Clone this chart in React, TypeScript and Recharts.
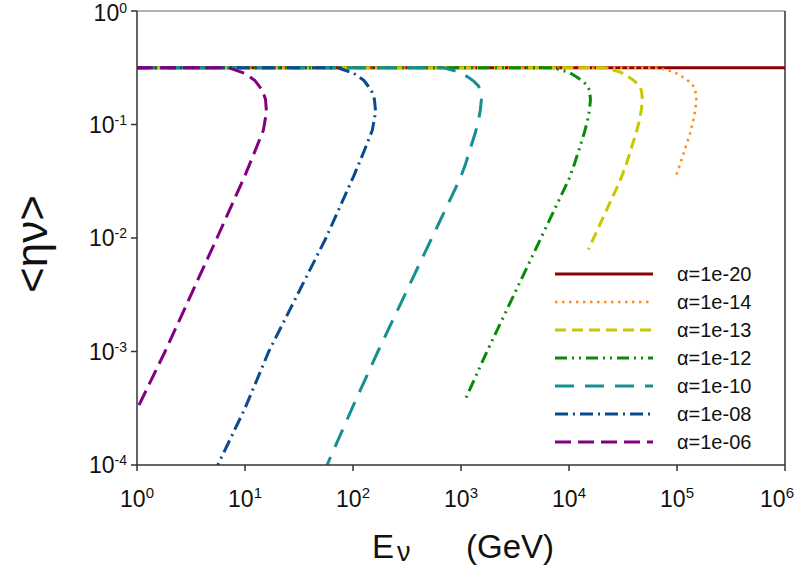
import { FC } from "react";
import { LineChart, Line, XAxis, YAxis, ReferenceLine, Legend, Label } from "recharts";

// energies (GeV) and <eta_nu>, one pair of arrays per alpha
const a20E = [1, 1e6];
const a20Eta = [0.316, 0.316];

const a14E = [1, 67600, 95500, 112000, 129000, 141000, 148000, 151000, 148000, 141000, 132000, 120000, 107000, 95500];
const a14Eta = [0.316, 0.316, 0.288, 0.263, 0.24, 0.219, 0.2, 0.166, 0.135, 0.107, 0.0832, 0.0631, 0.0447, 0.0331];

const a13E = [1, 21400, 30200, 35500, 40700, 44700, 46800, 47900, 46800, 44700, 41700, 38000, 33900, 30200, 15100];
const a13Eta = [0.316, 0.316, 0.288, 0.263, 0.24, 0.219, 0.2, 0.166, 0.135, 0.107, 0.0832, 0.0631, 0.0447, 0.0331, 0.0079];

const a12E = [1, 7080, 10000, 11700, 13500, 14800, 15500, 15800, 15500, 14800, 13800, 12600, 11200, 10000, 5500, 1740, 1070];
const a12Eta = [0.316, 0.316, 0.288, 0.263, 0.24, 0.219, 0.2, 0.166, 0.135, 0.107, 0.0832, 0.0631, 0.0447, 0.0331, 0.01, 0.001, 0.00036];

const a10E = [1, 692, 977, 1150, 1320, 1450, 1510, 1550, 1510, 1450, 1350, 1230, 1100, 977, 537, 170, 98, 57.5];
const a10Eta = [0.316, 0.316, 0.288, 0.263, 0.24, 0.219, 0.2, 0.17, 0.135, 0.107, 0.0832, 0.0631, 0.0447, 0.0331, 0.01, 0.001, 0.000316, 0.0001];

const a08E = [1, 72.4, 102, 126, 148, 158, 162, 151, 126, 102, 56.2, 16.6, 10, 5.6];
const a08Eta = [0.316, 0.316, 0.282, 0.245, 0.2, 0.166, 0.129, 0.0891, 0.0575, 0.0355, 0.01, 0.001, 0.000316, 0.0001];

const a06E = [1, 7.08, 10, 12.3, 14.5, 15.5, 15.8, 14.8, 12.3, 10, 5.5, 1.82, 1];
const a06Eta = [0.316, 0.316, 0.282, 0.245, 0.2, 0.166, 0.129, 0.0891, 0.0575, 0.0355, 0.01, 0.001, 0.00031];

const xTicks = [1, 10, 100, 1e3, 1e4, 1e5, 1e6];
const yTicks = [1e-4, 1e-3, 1e-2, 1e-1, 1];

const zip = (es: number[], etas: number[]) => es.map((e, i) => ({ e, eta: etas[i] }));

const series = [
  { name: "α=1e-20", color: "#8b0000", dash: undefined, width: 3, data: zip(a20E, a20Eta) },
  { name: "α=1e-14", color: "#ff8c1a", dash: "2.5 4.5", width: 2.5, data: zip(a14E, a14Eta) },
  { name: "α=1e-13", color: "#c8c800", dash: "11 6", width: 3, data: zip(a13E, a13Eta) },
  { name: "α=1e-12", color: "#0a8a0a", dash: "12 5 2 5 2 5", width: 3, data: zip(a12E, a12Eta) },
  { name: "α=1e-10", color: "#168f8f", dash: "19 11", width: 3, data: zip(a10E, a10Eta) },
  { name: "α=1e-08", color: "#0b4a8e", dash: "13 5 2 5", width: 3, data: zip(a08E, a08Eta) },
  { name: "α=1e-06", color: "#800080", dash: "16 7", width: 3, data: zip(a06E, a06Eta) },
];

const font = "'Liberation Sans', Arial, sans-serif";

const XTick = (props: any) => {
  const { x, y, payload } = props;
  const p = Math.round(Math.log10(payload.value));
  return (
    <text x={x} y={y + 34} textAnchor="middle" fontFamily={font} fontSize={23} fill="#111">
      <tspan>10</tspan>
      <tspan dy={-9} fontSize={15}>{p}</tspan>
    </text>
  );
};

const YTick = (props: any) => {
  const { x, y, payload } = props;
  const p = Math.round(Math.log10(payload.value));
  // the top label sits a little lower so it stays inside the picture
  const base = payload.value === 1 ? 10 : 8;
  return (
    <text x={x - 2} y={y + base} textAnchor="end" fontFamily={font} fontSize={23} fill="#111">
      <tspan>10</tspan>
      <tspan dy={-8} fontSize={14}>{p}</tspan>
    </text>
  );
};

const LegendBox = () => (
  <svg width={240} height={200}>
    {series.map((s, i) => (
      <g key={s.name}>
        <line x1={8} x2={106} y1={14 + i * 28} y2={14 + i * 28} stroke={s.color} strokeWidth={s.width} strokeDasharray={s.dash} />
        <text x={130} y={21 + i * 28} fontFamily={font} fontSize={20} fill="#111">{s.name}</text>
      </g>
    ))}
  </svg>
);

const App: FC = () => {
  return (
    <div style={{ position: "absolute", left: 0, top: 0, width: 805, height: 580 }}>
      <LineChart width={805} height={580} margin={{ top: 11, right: 20, left: 0, bottom: 55 }}>
        <XAxis
          type="number"
          dataKey="e"
          scale="log"
          domain={[1, 1e6]}
          ticks={xTicks}
          allowDataOverflow
          height={60}
          stroke="#333"
          strokeWidth={1.5}
          tickSize={6}
          tick={<XTick />}
        >
          <Label
            content={() => (
              <text fontFamily={font} fontSize={33} fill="#111">
                <tspan x={372} y={558}>E</tspan>
                <tspan x={397} y={561} fontSize={27}>ν</tspan>
                <tspan x={466} y={558}>(GeV)</tspan>
              </text>
            )}
          />
        </XAxis>
        <YAxis
          type="number"
          dataKey="eta"
          scale="log"
          domain={[1e-4, 1]}
          ticks={yTicks}
          allowDataOverflow
          width={137}
          stroke="#333"
          strokeWidth={1.5}
          tickSize={6}
          tick={<YTick />}
        >
          <Label
            content={() => (
              <text
                x={32}
                y={244}
                transform="rotate(-90, 32, 244)"
                textAnchor="middle"
                dy="0.35em"
                fontFamily={font}
                fontSize={44}
                fill="#111"
              >
                &lt;ην&gt;
              </text>
            )}
          />
        </YAxis>
        <ReferenceLine y={1} stroke="#9a9a9a" strokeWidth={1.5} />
        <ReferenceLine x={1e6} stroke="#333" strokeWidth={1.5} />
        {series.map((s) => (
          <Line
            key={s.name}
            data={s.data}
            dataKey="eta"
            name={s.name}
            type="linear"
            stroke={s.color}
            strokeWidth={s.width}
            strokeDasharray={s.dash}
            dot={false}
            activeDot={false}
            isAnimationActive={false}
          />
        ))}
        <Legend
          layout="vertical"
          align="center"
          verticalAlign="middle"
          content={() => <LegendBox />}
          wrapperStyle={{ left: 547, top: 260, width: 240, height: 200 }}
        />
      </LineChart>
    </div>
  );
};

export default App;
